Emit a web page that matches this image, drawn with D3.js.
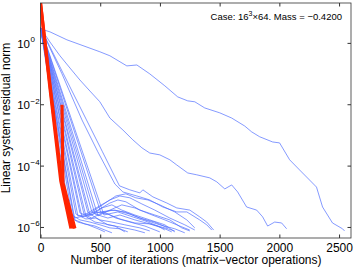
<!DOCTYPE html>
<html>
<head>
<meta charset="utf-8">
<script src="https://cdn.jsdelivr.net/npm/d3@7"></script>
<style>
body{margin:0;background:#fff;}
text{font-family:"Liberation Sans",Arial,sans-serif;fill:#000;}
</style>
</head>
<body>
<div class="chart"></div>
<script>
// each series: [iteration, log10(residual norm)]
var blueA = [[0,0.49],[29,0.42],[79,0.36],[221,0.10],[497,-0.29],[581,-0.42],[723,-0.75],[807,-0.72],[915,-1.01],[1041,-1.40],[1149,-1.76],[1233,-1.89],[1292,-1.92],[1375,-2.12],[1501,-2.28],[1601,-2.45],[1710,-2.71],[1768,-2.90],[1835,-3.06],[1944,-3.23],[2002,-3.26],[2086,-3.81],[2169,-4.14],[2253,-4.47],[2311,-4.70],[2362,-5.35],[2445,-5.87],[2529,-6.06],[2546,-6.13]];
var blueB = [[0,0.49],[79,0.03],[163,-0.42],[247,-0.82],[330,-1.21],[414,-1.57],[497,-1.92],[581,-2.45],[690,-2.84],[773,-3.16],[849,-3.42],[915,-3.59],[999,-3.65],[1083,-3.81],[1141,-3.98],[1233,-4.24],[1308,-4.30],[1417,-4.40],[1476,-4.53],[1543,-4.76],[1601,-4.63],[1651,-4.86],[1726,-5.35],[1810,-5.45],[1860,-5.67],[1902,-5.97],[1961,-5.84],[2019,-5.87],[2061,-6.06]];
var blueC = [[0,0.49],[192,-1.01],[385,-2.51],[519,-3.55],[661,-4.66],[748,-4.79],[832,-4.89],[857,-4.79],[941,-5.02],[1058,-5.22],[1141,-5.38],[1250,-5.45],[1333,-5.67],[1392,-5.84],[1450,-6.10]];
var blueD = [[0,0.49],[180,-1.01],[347,-2.51],[480,-3.55],[623,-4.60],[690,-4.86],[807,-4.99],[915,-5.12],[1024,-5.35],[1141,-5.51],[1225,-5.51],[1333,-5.77],[1392,-5.93],[1434,-6.10]];
var blueE = [[0,0.49],[263,-5.61],[330,-5.77],[414,-5.84],[497,-5.93],[581,-6.03],[665,-6.06],[731,-6.16]];
var blueF = [[0,0.49],[280,-5.71],[372,-5.64],[456,-5.84],[539,-5.90],[623,-5.97],[706,-6.16]];
var blueG = [[0,0.49],[297,-5.58],[380,-5.74],[464,-5.71],[564,-5.93],[665,-6.00],[790,-6.10],[874,-6.19]];
var blueH = [[0,0.49],[313,-5.64],[414,-5.58],[497,-5.77],[598,-5.84],[706,-5.93],[832,-6.03],[915,-6.13]];
var blueI = [[0,0.49],[330,-5.54],[430,-5.71],[531,-5.51],[631,-5.71],[748,-5.84],[874,-5.97],[999,-6.16]];
var blueJ = [[0,0.49],[347,-5.67],[430,-5.61],[514,-5.38],[598,-5.28],[681,-5.45],[790,-5.61],[915,-5.77],[1041,-5.93],[1124,-6.16]];
var blueK = [[0,0.49],[364,-5.58],[464,-5.51],[564,-5.58],[665,-5.74],[790,-5.87],[915,-5.90],[1041,-6.06],[1099,-6.16]];
var blueL = [[0,0.49],[380,-5.64],[481,-5.45],[581,-5.22],[648,-5.12],[715,-5.18],[832,-5.45],[957,-5.61],[1083,-5.77],[1183,-6.03],[1250,-6.13]];
var blueM = [[0,0.49],[397,-5.54],[497,-5.31],[581,-5.12],[665,-4.99],[748,-5.05],[849,-5.25],[957,-5.45],[1083,-5.71],[1208,-5.93],[1292,-6.10]];
var blueN = [[0,0.49],[414,-5.61],[497,-5.51],[623,-5.45],[748,-5.58],[874,-5.77],[999,-5.93],[1124,-6.06],[1208,-6.19]];
var blueO = [[0,0.49],[430,-5.51],[531,-5.25],[631,-4.99],[715,-4.92],[798,-5.05],[899,-5.12],[999,-5.28],[1124,-5.51],[1225,-5.77],[1292,-6.03]];
var blueP = [[0,0.49],[456,-5.58],[564,-5.71],[665,-5.61],[790,-5.77],[915,-5.90],[1041,-6.03],[1124,-6.13]];
var blueQ = [[0,0.49],[481,-5.64],[581,-5.45],[681,-5.28],[790,-5.38],[915,-5.58],[1041,-5.77],[1166,-5.97],[1250,-6.10]];
var blueR = [[0,0.49],[506,-5.54],[598,-5.45],[706,-5.51],[832,-5.71],[957,-5.84],[1066,-6.03]];
var blueS = [[0,0.49],[531,-5.61],[648,-5.51],[748,-5.64],[874,-5.80],[982,-5.97],[1041,-6.10]];
var blueT = [[0,0.49],[288,-5.77],[372,-5.90],[456,-5.97],[539,-6.10],[598,-6.19]];
var blueU = [[0,0.49],[247,-5.67],[313,-5.84],[397,-5.93],[481,-6.06],[539,-6.16]];

var red1 = [[0,1.30],[80,-1.50],[170,-4.50],[255,-6.05]];
var red2 = [[0,1.30],[85,-1.55],[178,-4.50],[275,-6.05]];
var red3 = [[180,-2.02],[188,-4.56],[288,-6.05]];

var xTicks = [0, 500, 1000, 1500, 2000, 2500];
var yTickExps = [0, -2, -4, -6];

var blueSeries = [blueA, blueB, blueC, blueD, blueE, blueF, blueG, blueH, blueI, blueJ, blueK,
	blueL, blueM, blueN, blueO, blueP, blueQ, blueR, blueS, blueT, blueU];
var redSeries = [red1, red2, red3];

var w = 355, h = 267;
var mLeft = 40.5, mRight = 351, mTop = 3, mBottom = 238;

var svg = d3.select(".chart").append("svg")
	.attr("width", w)
	.attr("height", h);

var x = d3.scaleLinear().domain([0, 2600]).range([mLeft, mRight]);
var y = d3.scaleLog().domain([Math.pow(10, -6.36), Math.pow(10, 1.3)]).range([mBottom, mTop]);

svg.append("clipPath").attr("id", "plot")
	.append("rect")
	.attr("x", mLeft).attr("y", mTop)
	.attr("width", mRight - mLeft).attr("height", mBottom - mTop);

var line = d3.line()
	.x(function(d){ return x(d[0]); })
	.y(function(d){ return y(Math.pow(10, d[1])); });

var plot = svg.append("g").attr("clip-path", "url(#plot)");

plot.selectAll(".blue")
	.data(blueSeries)
	.enter()
	.append("path")
	.attr("class", "blue")
	.attr("d", line)
	.attr("fill", "none")
	.attr("stroke", "rgb(80,110,255)")
	.attr("stroke-width", 0.7);

plot.selectAll(".red")
	.data(redSeries)
	.enter()
	.append("path")
	.attr("class", "red")
	.attr("d", line)
	.attr("fill", "none")
	.attr("stroke", "#ff2400")
	.attr("stroke-width", 3.2);

//axes box with inward ticks (matlab style)
var axisColor = "#333";
svg.append("rect")
	.attr("x", mLeft).attr("y", mTop)
	.attr("width", mRight - mLeft).attr("height", mBottom - mTop)
	.attr("fill", "none")
	.attr("stroke", axisColor)
	.attr("stroke-width", 0.8);

var tickLen = 3.5;
var xAxisBottom = d3.axisBottom(x).tickValues(xTicks).tickSizeInner(-tickLen).tickSizeOuter(0)
	.tickPadding(5).tickFormat(d3.format("d"));
var gx = svg.append("g").attr("transform", "translate(0," + mBottom + ")").call(xAxisBottom);
gx.select(".domain").remove();
gx.selectAll("line").attr("stroke", axisColor);
gx.selectAll("text").attr("font-size", "12px").attr("fill", "#000")
	.style("font-family", "Liberation Sans, Arial, sans-serif");

var xAxisTop = d3.axisTop(x).tickValues(xTicks.slice(1)).tickSizeInner(-tickLen).tickSizeOuter(0).tickFormat("");
var gxt = svg.append("g").attr("transform", "translate(0," + mTop + ")").call(xAxisTop);
gxt.select(".domain").remove();
gxt.selectAll("line").attr("stroke", axisColor);

var yVals = yTickExps.map(function(e){ return Math.pow(10, e); });
var yAxisLeft = d3.axisLeft(y).tickValues(yVals).tickSizeInner(-tickLen).tickSizeOuter(0).tickFormat("");
var gy = svg.append("g").attr("transform", "translate(" + mLeft + ",0)").call(yAxisLeft);
gy.select(".domain").remove();
gy.selectAll("line").attr("stroke", axisColor);

var yAxisRight = d3.axisRight(y).tickValues(yVals).tickSizeInner(-tickLen).tickSizeOuter(0).tickFormat("");
var gyr = svg.append("g").attr("transform", "translate(" + mRight + ",0)").call(yAxisRight);
gyr.select(".domain").remove();
gyr.selectAll("line").attr("stroke", axisColor);

//y tick labels 10^k
svg.selectAll(".ylab")
	.data(yTickExps)
	.enter()
	.append("text")
	.attr("class", "ylab")
	.attr("x", 30)
	.attr("y", function(d){ return y(Math.pow(10, d)) + 5; })
	.attr("text-anchor", "end")
	.attr("font-size", "11.5px")
	.text("10");

svg.selectAll(".yexp")
	.data(yTickExps)
	.enter()
	.append("text")
	.attr("class", "yexp")
	.attr("x", 30.5)
	.attr("y", function(d){ return y(Math.pow(10, d)) - 0.5; })
	.attr("font-size", "8px")
	.text(function(d){ return d < 0 ? "\u2212" + (-d) : d; });

//axis titles
svg.append("text")
	.attr("x", 196)
	.attr("y", 264)
	.attr("text-anchor", "middle")
	.attr("font-size", "12px")
	.text("Number of iterations (matrix\u2212vector operations)");

svg.append("text")
	.attr("transform", "translate(10,118) rotate(-90)")
	.attr("text-anchor", "middle")
	.attr("font-size", "12px")
	.text("Linear system residual norm");

//case annotation
var note = svg.append("text")
	.attr("x", 342)
	.attr("y", 20)
	.attr("text-anchor", "end")
	.attr("font-size", "9.5px");
note.append("tspan").text("Case: 16");
note.append("tspan").attr("font-size", "7px").attr("dy", -4).text("3");
note.append("tspan").attr("dy", 4).text("\u00d764. Mass = \u22120.4200");
</script>
</body>
</html>
